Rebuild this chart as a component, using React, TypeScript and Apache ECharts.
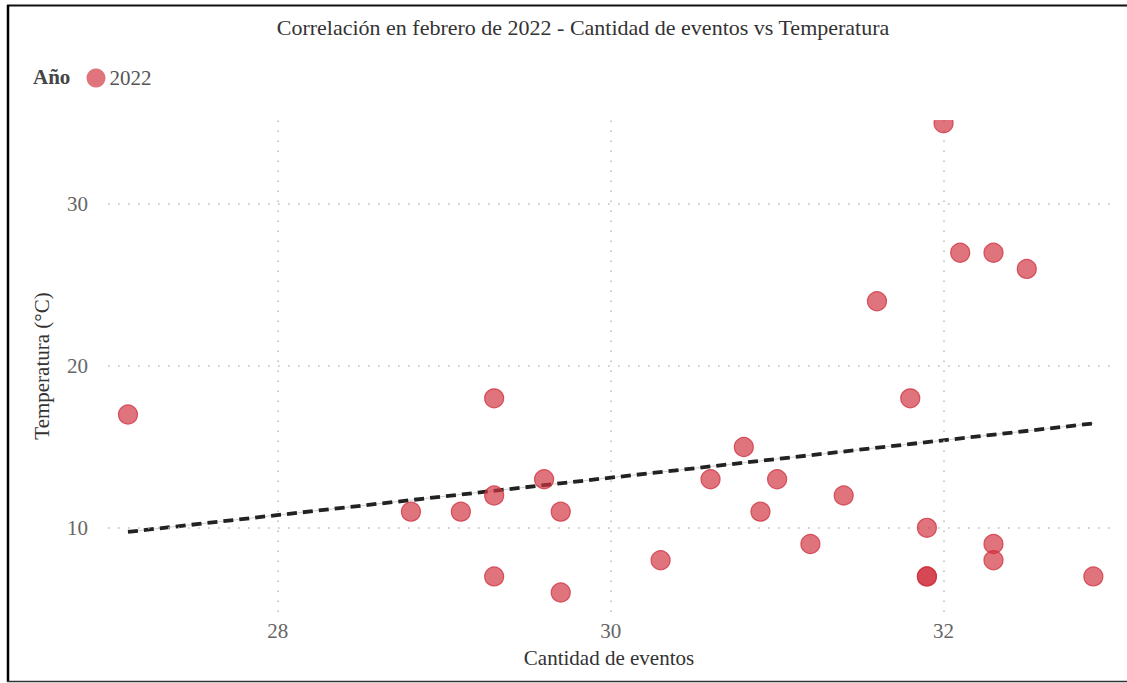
import React, { useEffect, useRef } from "react";
import * as echarts from "echarts";

const eventos = [27.1, 28.8, 29.1, 29.3, 29.3, 29.3, 29.6, 29.7, 29.7, 30.3, 30.6, 30.8, 30.9, 31.0, 31.2, 31.4, 31.6, 31.8, 31.9, 31.9, 31.9, 32.0, 32.1, 32.3, 32.5, 32.3, 32.3, 32.9];
const temperatura = [17, 11, 11, 18, 12, 7, 13, 11, 6, 8, 13, 15, 11, 13, 9, 12, 24, 18, 10, 7, 7, 35, 27, 27, 26, 9, 8, 7];
const tendenciaX = [27.1, 32.9];
const tendenciaY = [9.75, 16.45];
const xTicks = [28, 30, 32];
const yTicks = [10, 20, 30];

const FONT = "'Liberation Serif', 'Times New Roman', serif";

export default function App() {
  const ref = useRef<HTMLDivElement>(null);
  useEffect(() => {
    if (!ref.current) return;
    const chart = echarts.init(ref.current, null, { renderer: "svg" });
    const points = eventos.map((x, i) => [x, temperatura[i]]);
    const trend = tendenciaX.map((x, i) => [x, tendenciaY[i]]);
    const dotted = { color: "#bdbdbd", width: 1.6, type: [1.6, 8.4] as any };
    chart.setOption({
      animation: false,
      backgroundColor: "#ffffff",
      textStyle: { fontFamily: FONT },
      title: {
        text: "Correlación en febrero de 2022 - Cantidad de eventos vs Temperatura",
        left: 578,
        textAlign: "center",
        top: 11,
        textStyle: { fontFamily: FONT, fontSize: 22, fontWeight: "normal", color: "#333" },
      },
      legend: {
        left: 86.5,
        top: 67.5,
        padding: 0,
        icon: "circle",
        itemWidth: 19,
        itemHeight: 19,
        itemGap: 5,
        data: ["2022"],
        itemStyle: { borderWidth: 0 },
        textStyle: { fontFamily: FONT, fontSize: 21, color: "#555", padding: [0, 0, 0, -1] },
      },
      graphic: [
        {
          type: "text",
          left: 33,
          top: 66,
          style: { text: "Año", font: `bold 21px ${FONT}`, fill: "#444" },
        },
        {
          type: "rect",
          shape: { x: 915, y: 100, width: 60, height: 20 },
          style: { fill: "#ffffff" },
          z: 100,
        },
        { type: "line", shape: { x1: 7, y1: 5.5, x2: 1127, y2: 5.5 }, style: { stroke: "#111", lineWidth: 2 }, z: 101 },
        { type: "line", shape: { x1: 8, y1: 5, x2: 8, y2: 682 }, style: { stroke: "#000", lineWidth: 2.5 }, z: 101 },
        { type: "line", shape: { x1: 7, y1: 681.5, x2: 1127, y2: 681.5 }, style: { stroke: "#333", lineWidth: 1.5 }, z: 101 },
      ],
      grid: { left: 108, right: 17, top: 120, bottom: 71 },
      xAxis: {
        type: "value",
        min: 26.98,
        max: 33.0,
        name: "Cantidad de eventos",
        nameLocation: "middle",
        nameGap: 35,
        nameTextStyle: { fontFamily: FONT, fontSize: 21, color: "#333" },
        axisLine: { show: false },
        axisTick: { show: false },
        splitLine: { show: false },
        axisLabel: {
          customValues: xTicks,
          margin: 8.5,
          fontFamily: FONT,
          fontSize: 21,
          color: "#666",
        },
      },
      yAxis: {
        type: "value",
        min: 4.8,
        max: 35.2,
        name: "Temperatura (°C)",
        nameLocation: "middle",
        nameGap: 55.5,
        nameTextStyle: { fontFamily: FONT, fontSize: 21, color: "#333" },
        axisLine: { show: false },
        axisTick: { show: false },
        splitLine: { show: false },
        axisLabel: {
          customValues: yTicks,
          margin: 20,
          fontFamily: FONT,
          fontSize: 21,
          color: "#666",
        },
      },
      series: [
        {
          name: "grid",
          type: "line",
          data: [],
          silent: true,
          markLine: {
            silent: true,
            symbol: "none",
            label: { show: false },
            lineStyle: dotted,
            data: [
              ...yTicks.map((v) => ({ yAxis: v })),
              ...xTicks.map((v) => ({ xAxis: v })),
            ],
          },
        },
        {
          name: "trend-base",
          type: "line",
          data: trend,
          symbol: "none",
          silent: true,
          lineStyle: { color: "#cfcfcf", width: 1 },
          z: 3,
        },
        {
          name: "trend",
          type: "line",
          data: trend,
          symbol: "none",
          silent: true,
          lineStyle: { color: "#222", width: 3.8, type: [10, 6] as any },
          z: 4,
        },
        {
          name: "2022",
          type: "scatter",
          data: points,
          symbolSize: 19,
          clip: false,
          itemStyle: { color: "rgba(210,52,66,0.86)", borderColor: "rgba(205,45,60,0.95)", borderWidth: 1.2 },
          z: 5,
        },
      ],
    });
    return () => chart.dispose();
  }, []);
  return (
    <div
      ref={ref}
      style={{ position: "absolute", left: 0, top: 0, width: 1127, height: 683 }}
    />
  );
}
